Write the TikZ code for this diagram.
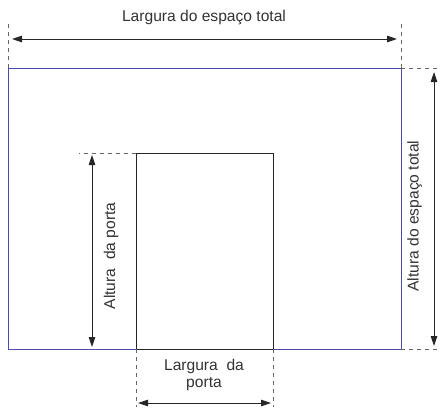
\documentclass[tikz,border=0pt]{standalone}
\usepackage{fontspec}
\setmainfont{Liberation Sans}
\usetikzlibrary{arrows.meta}
\definecolor{wallblue}{HTML}{4A4AB0}
\definecolor{txt}{HTML}{333333}
\tikzset{
  dim/.style={line width=0.9pt, black!85, {Triangle[length=10pt,width=6.5pt]}-{Triangle[length=10pt,width=6.5pt]}},
  ext/.style={line width=0.7pt, black!60, dash pattern=on 4pt off 4pt},
  lbl/.style={inner sep=0pt, text=txt, font=\fontsize{15.6}{17}\selectfont, align=center},
  wall/.style={line width=0.9pt, wallblue},
  door/.style={line width=0.9pt, black!85}
}
\begin{document}
\begin{tikzpicture}[x=1pt,y=-1pt]
\useasboundingbox (0,0) rectangle (441,407);
% outer space
\coordinate (oTL) at (8.5,68);
\coordinate (oTR) at (401,68);
\coordinate (oBR) at (401,349);
\coordinate (oBL) at (8.5,349);
\draw[wall] (oTL) rectangle (oBR);
% door
\coordinate (dTL) at (136,153);
\coordinate (dBR) at (273,349);
\coordinate (dBL) at (136,349);
\coordinate (dTR) at (273,153);
\draw[door] (dTL) rectangle (dBR);
% extension lines
\coordinate (eT1) at (8.5,24);
\coordinate (eT2) at (401,24);
\coordinate (eR1) at (440,68);
\coordinate (eR2) at (440,349);
\coordinate (eL) at (79,153);
\coordinate (eB1) at (136,407);
\coordinate (eB2) at (273,407);
\draw[ext] (oTL) -- (eT1);
\draw[ext] (oTR) -- (eT2);
\draw[ext] (oTR) -- (eR1);
\draw[ext] (oBR) -- (eR2);
\draw[ext] (dTL) -- (eL);
\draw[ext] (dBL) -- (eB1);
\draw[ext] (dBR) -- (eB2);
% dimension arrows
\coordinate (aT1) at (12,39);
\coordinate (aT2) at (397,39);
\coordinate (aR1) at (434,72);
\coordinate (aR2) at (434,346);
\coordinate (aL1) at (92,155);
\coordinate (aL2) at (92,347);
\coordinate (aB1) at (138,403);
\coordinate (aB2) at (271,403);
\draw[dim] (aT1) -- (aT2);
\draw[dim] (aR1) -- (aR2);
\draw[dim] (aL1) -- (aL2);
\draw[dim] (aB1) -- (aB2);
% labels
\node[lbl] (ltop) at (204,17) {Largura do espaço total};
\node[lbl, rotate=90] (lright) at (414.5,216) {Altura do espaço total};
\node[lbl, rotate=90] (lleft) at (111,256) {Altura\ \ da porta};
\node[lbl] (lbottom) at (204,375) {Largura\ \ da\\porta};
\end{tikzpicture}
\end{document}
